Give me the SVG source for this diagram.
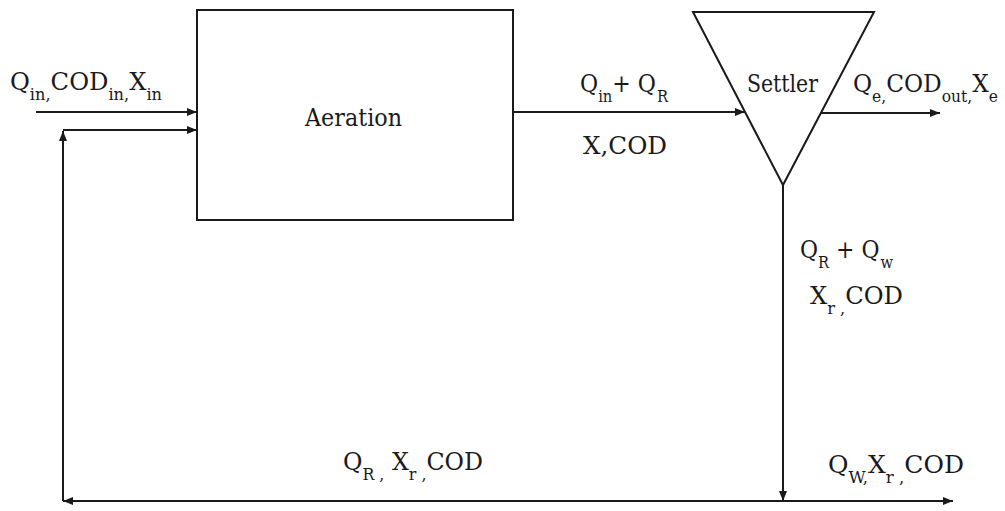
<svg xmlns="http://www.w3.org/2000/svg" width="1005" height="511" viewBox="0 0 1005 511">
<style>
  text { font-family: 'DejaVu Serif', 'Liberation Serif', serif; font-size: 24px; fill: #1a1a1a; }
  .sub { font-size: 16px; }
  .ln { stroke: #1a1a1a; stroke-width: 2; fill: none; }
  .shape { stroke: #1a1a1a; stroke-width: 2; fill: #ffffff; }
</style>
<defs>
  <marker id="arr" viewBox="0 0 10 8" refX="10" refY="4" markerWidth="10" markerHeight="8" markerUnits="userSpaceOnUse" orient="auto">
    <path d="M0,0 L10,4 L0,8 Z" fill="#1a1a1a"/>
  </marker>
</defs>
<rect width="1005" height="511" fill="#ffffff"/>

<g id="connectors">
  <line class="ln" x1="36" y1="112" x2="197" y2="112" marker-end="url(#arr)"/>
  <line class="ln" x1="63" y1="130" x2="197" y2="130" marker-end="url(#arr)"/>
  <line class="ln" x1="63" y1="501" x2="63" y2="131" marker-end="url(#arr)"/>
  <line class="ln" x1="513" y1="112" x2="745" y2="112" marker-end="url(#arr)"/>
  <line class="ln" x1="821" y1="113" x2="940" y2="113" marker-end="url(#arr)"/>
  <line class="ln" x1="783" y1="185" x2="783" y2="501" marker-end="url(#arr)"/>
  <line class="ln" x1="783" y1="501" x2="63" y2="501" marker-end="url(#arr)"/>
  <line class="ln" x1="783" y1="501" x2="953" y2="501" marker-end="url(#arr)"/>
</g>

<g id="aeration">
  <rect class="shape" x="197" y="10" width="316" height="210"/>
  <text x="305" y="126" textLength="97" lengthAdjust="spacingAndGlyphs">Aeration</text>
</g>

<g id="settler">
  <polygon class="shape" points="693,12 874,12 783,185"/>
  <text x="747" y="92" textLength="71" lengthAdjust="spacingAndGlyphs">Settler</text>
</g>

<g id="labels">
  <text x="10" y="90" textLength="152" lengthAdjust="spacingAndGlyphs">Q<tspan class="sub" dy="10">in,</tspan><tspan dy="-10">COD</tspan><tspan class="sub" dy="10">in,</tspan><tspan dy="-10">X</tspan><tspan class="sub" dy="10">in</tspan></text>
  <text x="580" y="92" textLength="88" lengthAdjust="spacingAndGlyphs">Q<tspan class="sub" dy="10">in</tspan><tspan dy="-10">+ Q</tspan><tspan class="sub" dx="1" dy="10">R</tspan></text>
  <text x="583" y="154" textLength="84" lengthAdjust="spacingAndGlyphs">X,COD</text>
  <text x="853" y="92" textLength="145" lengthAdjust="spacingAndGlyphs">Q<tspan class="sub" dy="10">e,</tspan><tspan dy="-10">COD</tspan><tspan class="sub" dy="10">out,</tspan><tspan dy="-10">X</tspan><tspan class="sub" dy="10">e</tspan></text>
  <text x="800" y="258" textLength="93" lengthAdjust="spacingAndGlyphs">Q<tspan class="sub" dy="10">R</tspan><tspan dy="-10"> + Q</tspan><tspan class="sub" dx="1" dy="10">w</tspan></text>
  <text x="810" y="304" textLength="93" lengthAdjust="spacingAndGlyphs">X<tspan class="sub" dy="10">r ,</tspan><tspan dy="-10">COD</tspan></text>
  <text x="343" y="470" textLength="140" lengthAdjust="spacingAndGlyphs">Q<tspan class="sub" dy="10">R ,</tspan><tspan dy="-10"> X</tspan><tspan class="sub" dy="10">r ,</tspan><tspan dy="-10">COD</tspan></text>
  <text x="828" y="473" textLength="136" lengthAdjust="spacingAndGlyphs">Q<tspan class="sub" dy="10">W,</tspan><tspan dy="-10">X</tspan><tspan class="sub" dy="10">r ,</tspan><tspan dy="-10">COD</tspan></text>
</g>
</svg>
